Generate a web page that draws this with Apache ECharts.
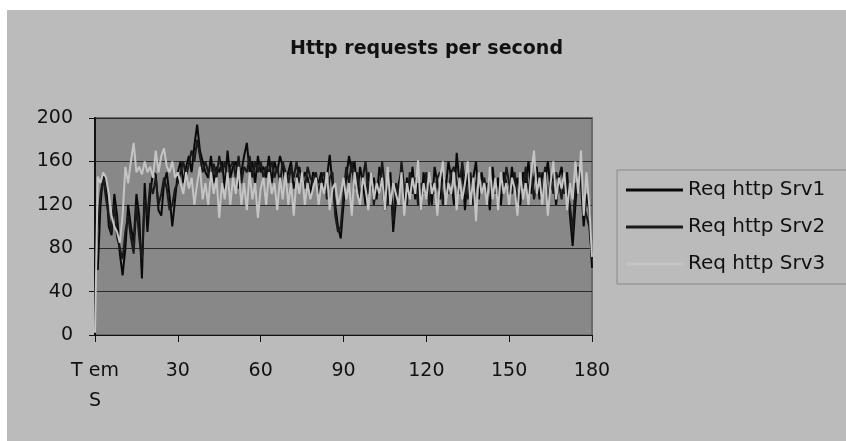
<!DOCTYPE html>
<html>
<head>
<meta charset="utf-8">
<script src="https://cdn.jsdelivr.net/npm/echarts@6/dist/echarts.min.js"></script>
<style>
  html, body { margin: 0; padding: 0; background: #ffffff; }
  #main { position: absolute; left: 7px; top: 10px; width: 839px; height: 431px; }
</style>
</head>
<body>
<div id="main"></div>
<script>
// time axis: first category is the column header, then seconds 1..180
var firstLabel = 'T em\nS';
var seconds = [];
for (var s = 1; s <= 180; s++) seconds.push(String(s));

var yTicks = [0, 40, 80, 120, 160, 200];

var srv1 = [
  65, 60, 120, 150, 140, 100, 92, 130, 110, 75,
  55, 80, 120, 100, 85, 130, 110, 52, 140, 95,
  130, 150, 148, 115, 110, 140, 150, 128, 100, 125,
  150, 160, 140, 155, 165, 150, 175, 194, 170, 160,
  150, 145, 165, 140, 155, 150, 160, 135, 170, 145,
  155, 160, 135, 150, 165, 177, 150, 160, 140, 165,
  150, 155, 145, 165, 140, 160, 150, 165, 155, 140,
  150, 160, 135, 145, 155, 140, 150, 145, 130, 150,
  145, 140, 150, 135, 145, 166, 140, 120, 100, 89,
  120, 145, 165, 150, 160, 130, 155, 140, 120, 150,
  135, 145, 125, 155, 140, 115, 130, 150, 95, 125,
  140, 150, 120, 145, 130, 155, 125, 140, 115, 150,
  130, 145, 120, 155, 140, 125, 150, 135, 160, 145,
  120, 168, 140, 155, 115, 150, 130, 145, 160, 125,
  150, 135, 140, 115, 155, 130, 145, 120, 150, 140,
  125, 155, 135, 145, 120, 150, 140, 160, 130, 145,
  155, 125, 150, 140, 160, 135, 150, 120, 145, 155,
  130, 150, 110, 82, 120, 155, 140, 100, 130, 115,
  62
];

var srv2 = [
  70, 100, 130, 145, 125, 110, 95, 120, 90, 80,
  70, 95, 110, 90, 75, 120, 90, 70, 125, 110,
  140, 130, 145, 120, 130, 145, 135, 115, 120, 135,
  140, 150, 160, 145, 158, 170, 160, 180, 165, 150,
  160, 150, 140, 158, 145, 165, 150, 160, 140, 155,
  160, 145, 165, 140, 155, 150, 165, 145, 160, 150,
  160, 145, 155, 150, 160, 145, 155, 140, 160, 150,
  140, 155, 145, 160, 140, 150, 135, 155, 145, 140,
  150, 130, 145, 150, 125, 145, 150, 110, 95, 100,
  130, 155, 140, 160, 135, 150, 125, 145, 160, 130,
  150, 120, 140, 130, 160, 135, 120, 140, 105, 140,
  125, 160, 135, 120, 150, 130, 145, 120, 140, 130,
  150, 120, 140, 130, 145, 150, 120, 140, 130, 150,
  155, 140, 130, 160, 140, 125, 150, 120, 140, 150,
  130, 145, 125, 150, 135, 145, 120, 140, 130, 155,
  140, 130, 150, 120, 145, 135, 155, 130, 150, 125,
  140, 150, 130, 155, 120, 145, 130, 150, 140, 125,
  150, 135, 120, 95, 140, 130, 150, 120, 110, 100,
  70
];

var srv3 = [
  2, 146, 140, 150, 145, 130, 110, 100, 95, 85,
  110, 155, 140, 160, 177, 150, 155, 148, 160, 150,
  155, 145, 170, 150, 165, 172, 155, 150, 160, 145,
  150, 140, 130, 150, 135, 145, 120, 140, 155, 125,
  140, 120, 150, 130, 145, 108, 140, 125, 150, 120,
  145, 130, 155, 120, 140, 115, 150, 125, 140, 108,
  135, 145, 120, 150, 130, 140, 115, 145, 125, 150,
  120, 140, 110, 145, 130, 150, 120, 140, 125, 135,
  145, 120, 140, 130, 150, 115, 135, 140, 120, 130,
  145, 125, 140, 110, 150, 130, 120, 145, 135, 115,
  150, 125, 140, 130, 145, 115, 155, 120, 140, 130,
  120, 150, 110, 140, 125, 145, 130, 161, 115, 140,
  125, 150, 130, 140, 110, 145, 160, 120, 140, 130,
  150, 115, 145, 125, 140, 160, 120, 145, 105, 150,
  130, 140, 120, 155, 125, 145, 115, 150, 130, 140,
  120, 145, 135, 110, 150, 125, 140, 120, 150, 170,
  130, 145, 120, 150, 110, 140, 160, 125, 145, 135,
  150, 115, 140, 125, 160, 130, 170, 110, 150, 120,
  72
];

var chartDom = document.getElementById('main');
var myChart = echarts.init(chartDom);
var option;

var font = 'DejaVu Sans';

option = {
  backgroundColor: '#bbbbbb',
  animation: false,
  title: {
    text: 'Http requests per second',
    left: 'center',
    top: 25,
    textStyle: {
      fontFamily: font,
      fontSize: 19,
      fontWeight: 'bold',
      color: '#111'
    }
  },
  legend: {
    data: ['Req http Srv1', 'Req http Srv2', 'Req http Srv3'],
    orient: 'vertical',
    left: 610,
    top: 160,
    width: 240,
    icon: 'rect',
    itemWidth: 57,
    itemHeight: 3,
    itemGap: 17,
    padding: [10, 40, 10, 9],
    borderColor: '#888',
    borderWidth: 1,
    backgroundColor: '#bbbbbb',
    textStyle: {
      fontFamily: font,
      fontSize: 20,
      color: '#111'
    }
  },
  grid: {
    left: 88,
    top: 108,
    width: 497,
    height: 217,
    show: true,
    backgroundColor: '#888888',
    borderColor: '#6a6a6a',
    borderWidth: 2
  },
  xAxis: {
    type: 'category',
    boundaryGap: false,
    data: [firstLabel].concat(seconds),
    axisLine: { lineStyle: { color: '#111', width: 1 } },
    axisTick: { interval: 29, length: 7, lineStyle: { color: '#111' } },
    axisLabel: {
      interval: 29,
      margin: 21,
      fontFamily: font,
      fontSize: 19,
      lineHeight: 30,
      color: '#111'
    },
    splitLine: { show: false }
  },
  yAxis: {
    type: 'value',
    min: yTicks[0],
    max: yTicks[yTicks.length - 1],
    interval: 40,
    axisLine: { show: true, lineStyle: { color: '#111', width: 2 } },
    axisTick: { show: true, length: 6, lineStyle: { color: '#111' } },
    axisLabel: {
      margin: 22,
      fontFamily: font,
      fontSize: 19,
      color: '#111'
    },
    splitLine: { lineStyle: { color: '#2a2a2a', width: 1 } }
  },
  series: [
    {
      name: 'Req http Srv1',
      type: 'line',
      data: srv1,
      symbol: 'none',
      itemStyle: { color: '#0a0a0a' },
      lineStyle: { color: '#0a0a0a', width: 2 }
    },
    {
      name: 'Req http Srv2',
      type: 'line',
      data: srv2,
      symbol: 'none',
      itemStyle: { color: '#1a1a1a' },
      lineStyle: { color: '#1a1a1a', width: 2 }
    },
    {
      name: 'Req http Srv3',
      type: 'line',
      data: srv3,
      symbol: 'none',
      itemStyle: { color: '#c4c4c4' },
      lineStyle: { color: '#c4c4c4', width: 2 }
    }
  ]
};

option && myChart.setOption(option);
</script>
</body>
</html>
